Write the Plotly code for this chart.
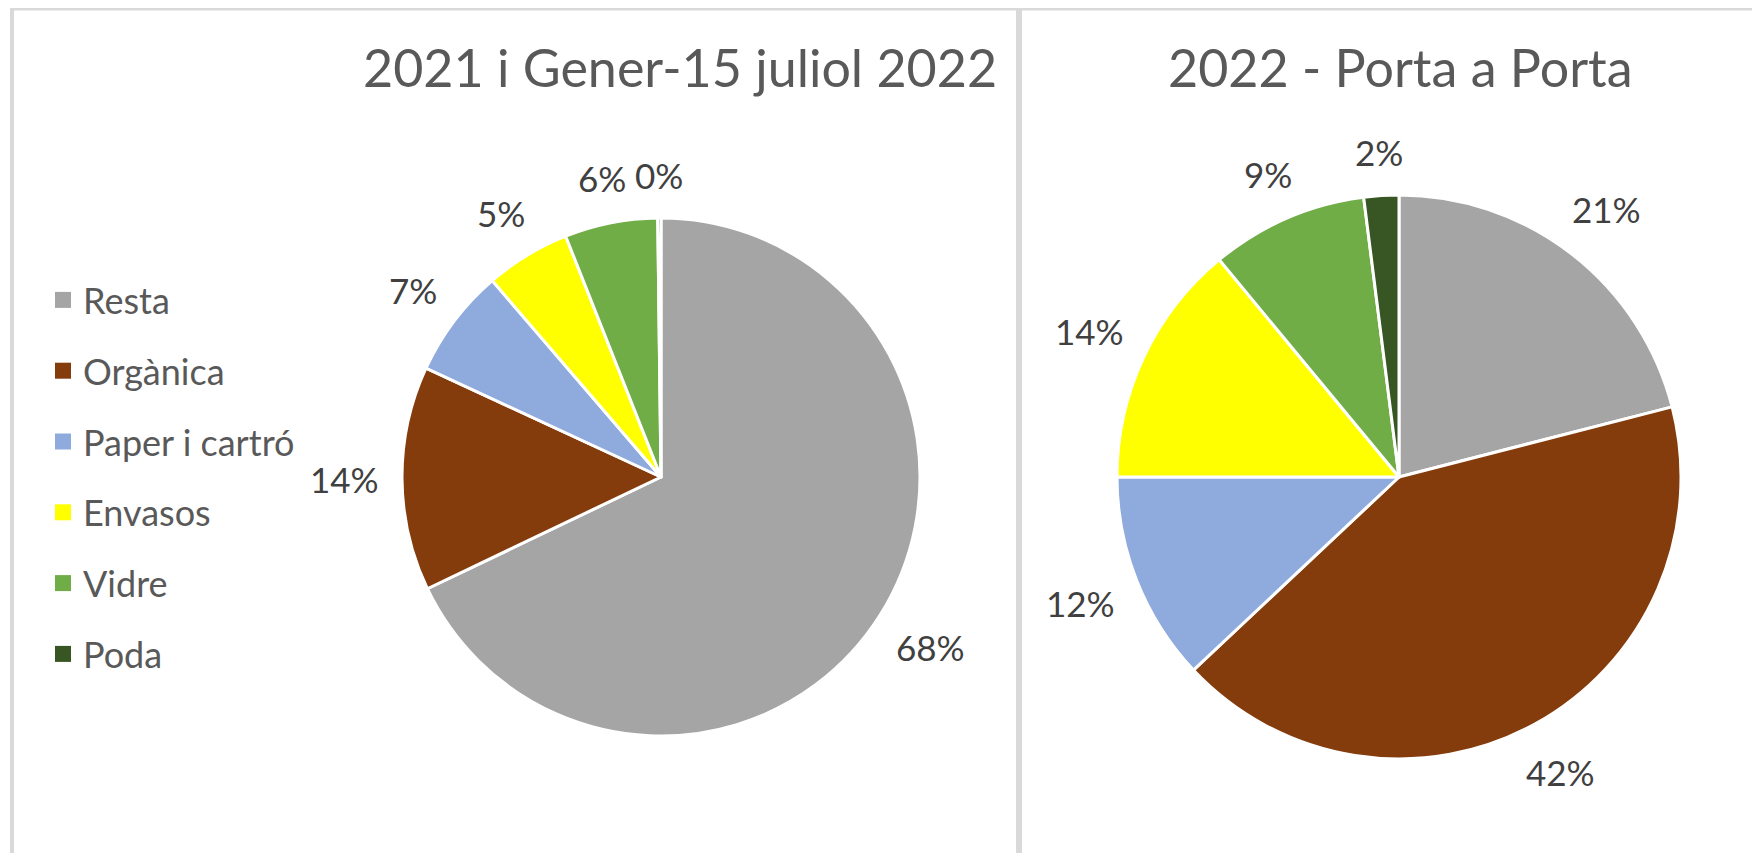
import math
import plotly.graph_objects as go

categories = ["Resta", "Orgànica", "Paper i cartró", "Envasos", "Vidre", "Poda"]
colors = ["#a5a5a5", "#843c0c", "#8faadc", "#ffff00", "#70ad47", "#375623"]
values_2021 = [67.9, 14.0, 6.8, 5.3, 5.8, 0.2]
values_2022 = [21.0, 42.0, 12.0, 14.0, 9.0, 2.0]
title_2021 = "2021 i Gener-15 juliol 2022"
title_2022 = "2022 - Porta a Porta"

# page body has an 8px margin; the figure fills the rest of the window
W, H = 1752, 845
FONT = "Lato"
TXT = "#595959"
LBL = "#404040"
LBL_SIZE = 35


def px(x):
    return x / W


def py(y):  # y measured from top in px
    return (H - y) / H


pie1 = dict(cx=653, cy=469, r=259)
pie2 = dict(cx=1391, cy=469, r=282)

fig = go.Figure()
annotations = []
for vals, p in [(values_2021, pie1), (values_2022, pie2)]:
    fig.add_trace(go.Pie(
        labels=categories, values=vals, sort=False, direction="clockwise", rotation=0,
        marker=dict(colors=colors, line=dict(color="white", width=3)),
        textinfo="none",
        domain=dict(x=[px(p["cx"] - p["r"]), px(p["cx"] + p["r"])],
                    y=[py(p["cy"] + p["r"]), py(p["cy"] - p["r"])]),
        showlegend=False, hoverinfo="label+percent",
    ))
    # data labels outside the slices (Excel-style, no leader lines)
    total = sum(vals)
    cum = 0.0
    for v in vals:
        frac = v / total
        theta = 2 * math.pi * (cum + frac / 2)
        cum += frac
        txt = f"{round(frac * 100):.0f}%"
        hw = (len(txt) - 1) * 0.29 * LBL_SIZE + 0.2 * LBL_SIZE
        hh = 0.36 * LBL_SIZE
        s, c = math.sin(theta), math.cos(theta)
        d = p["r"] + 30 + abs(s) * hw + abs(c) * hh
        annotations.append(dict(
            text=txt, x=px(p["cx"] + d * s), y=py(p["cy"] - d * c),
            xref="paper", yref="paper", xanchor="center", yanchor="middle",
            showarrow=False, font=dict(family=FONT, size=LBL_SIZE, color=LBL),
        ))

# legend entries
for cat, col in zip(categories, colors):
    fig.add_trace(go.Scatter(
        x=[None], y=[None], mode="markers", name=cat, legendgroup=cat,
        marker=dict(symbol="square", size=16, color=col), showlegend=True,
    ))

fig.update_xaxes(visible=False)
fig.update_yaxes(visible=False)

for t, tx in [(title_2021, 672), (title_2022, 1392)]:
    annotations.append(dict(
        text=t, x=px(tx), y=py(59), xref="paper", yref="paper",
        xanchor="center", yanchor="middle", showarrow=False,
        font=dict(family=FONT, size=52, color=TXT),
    ))

line_col = "#d9d9d9"
shapes = [
    dict(type="rect", xref="paper", yref="paper", x0=px(2), x1=1, y0=py(2.5), y1=py(-3),
         line=dict(width=0), fillcolor=line_col),
    dict(type="rect", xref="paper", yref="paper", x0=px(2), x1=px(6), y0=0, y1=py(-3),
         line=dict(width=0), fillcolor=line_col),
    dict(type="rect", xref="paper", yref="paper", x0=px(1008), x1=px(1014), y0=0, y1=py(-3),
         line=dict(width=0), fillcolor=line_col),
]

fig.update_layout(
    width=W, height=H, margin=dict(l=0, r=0, t=0, b=0),
    paper_bgcolor="white", plot_bgcolor="white",
    annotations=annotations, shapes=shapes,
    legend=dict(x=px(35), y=py(262), xanchor="left", yanchor="top",
                font=dict(family=FONT, size=36, color=TXT), tracegroupgap=21,
                itemsizing="trace", bgcolor="rgba(0,0,0,0)"),
)

fig.write_html("out.html")
